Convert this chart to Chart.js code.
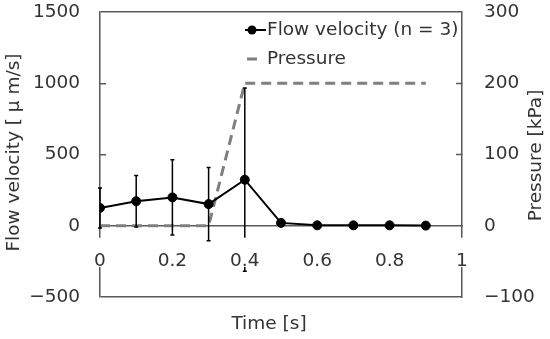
<!DOCTYPE html>
<html>
<head>
<meta charset="utf-8">
<script src="https://cdn.jsdelivr.net/npm/chart.js@4.4.1/dist/chart.umd.min.js"></script>
<style>
  html, body { margin: 0; padding: 0; background: #fff; }
  #wrap { width: 550px; height: 339px; }
</style>
</head>
<body>
<div id="wrap"><canvas id="flowChart" width="550" height="339"></canvas></div>
<script>
// Data
const timeS = [0, 0.1, 0.2, 0.3, 0.4, 0.5, 0.6, 0.7, 0.8, 0.9];
const velocity = [125, 172, 199, 152, 323, 20, 3, 3, 3, 1];
const velocityErr = [140, 180, 264, 257, 643, 10, 3, 3, 3, 2];
const pressure = [0, 0, 0, 0, 200, 200, 200, 200, 200, 200];
const velocityTicks = [-500, 0, 500, 1000, 1500];
const pressureTicks = [-100, 0, 100, 200, 300];
const timeTicks = [0, 0.2, 0.4, 0.6, 0.8, 1];

const FONT = "'DejaVu Sans', sans-serif";
const FSIZE = 18.5;
const textColor = '#333333';
const axisColor = '#595959';

Chart.defaults.font.family = FONT;
Chart.defaults.font.size = FSIZE;
Chart.defaults.color = textColor;

// minus sign like the original
const fmt = v => (v < 0 ? '\u2212' + Math.abs(v) : String(v));

// the fixed axis widths; label padding must not push the plot down
const fixWidth = w => s => {
    s.width = w;
    s.paddingTop = 0;
    s.paddingBottom = 0;
};

// error bars (drawn under the velocity line)
const errorBars = {
    id: 'errorBars',
    beforeDatasetDraw(chart, args) {
        if (args.index !== 0) return;
        const { ctx, scales: { x, y } } = chart;
        ctx.save();
        ctx.strokeStyle = '#000';
        ctx.lineWidth = 1.5;
        timeS.forEach((t, i) => {
            const px = x.getPixelForValue(t);
            const top = y.getPixelForValue(velocity[i] + velocityErr[i]);
            const bot = y.getPixelForValue(velocity[i] - velocityErr[i]);
            ctx.beginPath();
            ctx.moveTo(px, top); ctx.lineTo(px, bot);
            ctx.moveTo(px - 2, top); ctx.lineTo(px + 2, top);
            ctx.moveTo(px - 2, bot); ctx.lineTo(px + 2, bot);
            ctx.stroke();
        });
        ctx.restore();
    }
};

// axis titles, both vertical ones read bottom to top
const axisTitles = {
    id: 'axisTitles',
    afterDraw(chart) {
        const { ctx, chartArea } = chart;
        const midY = (chartArea.top + chartArea.bottom) / 2;
        const put = (text, x, y, rot) => {
            ctx.save();
            ctx.fillStyle = textColor;
            ctx.font = `${FSIZE}px ${FONT}`;
            ctx.textAlign = 'center';
            ctx.textBaseline = 'middle';
            ctx.translate(x, y);
            ctx.rotate(rot);
            ctx.fillText(text, 0, 0);
            ctx.restore();
        };
        put('Time [s]', 269, 324, 0);
        put('Flow velocity [ μ m/s]', 14, midY - 2, -Math.PI / 2);
        put('Pressure [kPa]', 536, midY + 1, -Math.PI / 2);
    }
};

// legend in the upper right of the plot, labels taken from the datasets
const plotLegend = {
    id: 'plotLegend',
    afterDraw(chart) {
        const { ctx } = chart;
        const ds = chart.data.datasets;
        const mx = 252, tx = 267;
        const rows = [30, 59];
        ctx.save();
        ctx.font = `${FSIZE}px ${FONT}`;
        ctx.textBaseline = 'middle';
        ctx.textAlign = 'left';
        // velocity: line with dot
        ctx.strokeStyle = ds[0].borderColor;
        ctx.lineWidth = 2;
        ctx.beginPath(); ctx.moveTo(mx - 7, rows[0]); ctx.lineTo(tx - 1, rows[0]); ctx.stroke();
        ctx.fillStyle = ds[0].backgroundColor;
        ctx.beginPath(); ctx.arc(mx, rows[0], 4.5, 0, Math.PI * 2); ctx.fill();
        // pressure: short dash
        ctx.strokeStyle = ds[1].borderColor;
        ctx.lineWidth = 3;
        ctx.beginPath(); ctx.moveTo(mx - 5, rows[1]); ctx.lineTo(mx + 5, rows[1]); ctx.stroke();
        ctx.fillStyle = textColor;
        ctx.fillText(ds[0].label, tx, rows[0]);
        ctx.fillText(ds[1].label, tx, rows[1]);
        ctx.restore();
    }
};

new Chart(document.getElementById('flowChart'), {
    type: 'line',
    data: {
        datasets: [
            {
                label: 'Flow velocity (n = 3)',
                data: timeS.map((t, i) => ({ x: t, y: velocity[i] })),
                yAxisID: 'y',
                borderColor: '#000',
                backgroundColor: '#000',
                borderWidth: 2,
                pointRadius: 4.5,
                pointBorderWidth: 1,
                pointHoverRadius: 4.5
            },
            {
                label: 'Pressure',
                data: timeS.map((t, i) => ({ x: t, y: pressure[i] })),
                yAxisID: 'y1',
                borderColor: '#7f7f7f',
                borderWidth: 3,
                borderDash: [10, 6],
                pointRadius: 0
            }
        ]
    },
    options: {
        responsive: false,
        animation: false,
        layout: { padding: { left: 0, right: 0, top: 12, bottom: 42 } },
        plugins: {
            tooltip: { enabled: false },
            legend: { display: false }
        },
        scales: {
            x: {
                type: 'linear',
                position: { y: 0 },
                min: timeTicks[0],
                max: timeTicks[timeTicks.length - 1],
                ticks: {
                    stepSize: timeTicks[1] - timeTicks[0],
                    autoSkip: false,
                    maxRotation: 0,
                    padding: 24,
                    z: 1,
                    showLabelBackdrop: true,
                    backdropColor: '#fff',
                    backdropPadding: { top: 12, bottom: -5, left: 3, right: 3 },
                    callback: v => String(+v.toFixed(1))
                },
                grid: { display: false, drawTicks: false },
                border: { display: true, color: axisColor, width: 1.5 }
            },
            y: {
                position: 'left',
                min: velocityTicks[0],
                max: velocityTicks[velocityTicks.length - 1],
                ticks: { stepSize: velocityTicks[1] - velocityTicks[0], padding: 26, callback: fmt },
                grid: {
                    color: c => (c.tick && (c.tick.value === velocityTicks[0] || c.tick.value === velocityTicks[velocityTicks.length - 1])) ? axisColor : 'transparent',
                    lineWidth: 1.5,
                    tickColor: c => (c.tick && c.tick.value > 0 && c.tick.value < velocityTicks[velocityTicks.length - 1]) ? axisColor : 'transparent',
                    tickLength: -6,
                    tickWidth: 1.5
                },
                border: { color: axisColor, width: 1.5 },
                afterFit: fixWidth(100)
            },
            y1: {
                position: 'right',
                min: pressureTicks[0],
                max: pressureTicks[pressureTicks.length - 1],
                ticks: { stepSize: pressureTicks[1] - pressureTicks[0], padding: 28, callback: fmt },
                grid: {
                    drawOnChartArea: false,
                    color: 'transparent',
                    tickColor: c => (c.tick && c.tick.value > 0 && c.tick.value < pressureTicks[pressureTicks.length - 1]) ? axisColor : 'transparent',
                    tickLength: -6,
                    tickWidth: 1.5
                },
                border: { color: axisColor, width: 1.5 },
                afterFit: fixWidth(88)
            }
        }
    },
    plugins: [errorBars, axisTitles, plotLegend]
});
</script>
</body>
</html>
